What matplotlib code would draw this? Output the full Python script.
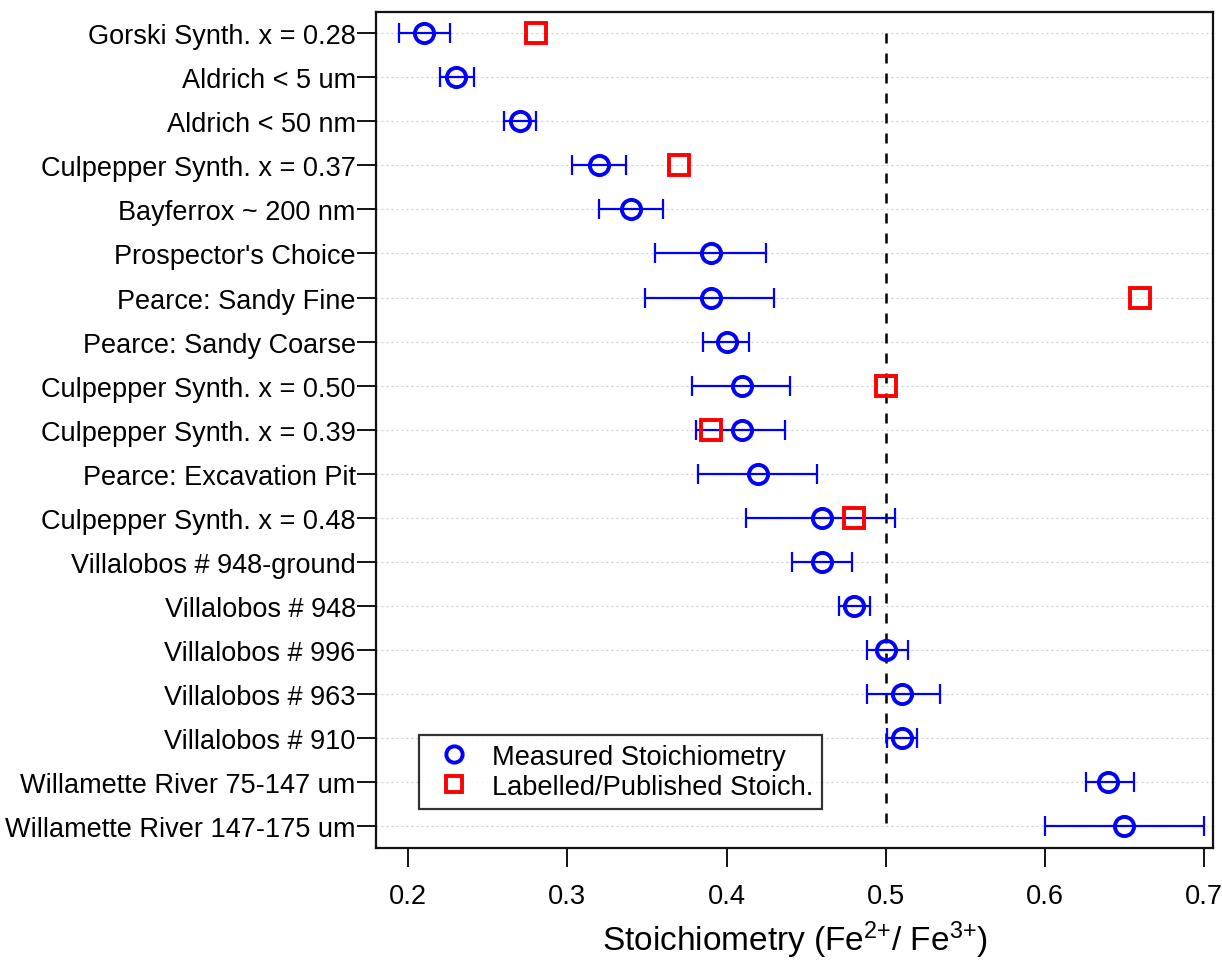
import numpy as np
import matplotlib
matplotlib.use("Agg")
import matplotlib.pyplot as plt

plt.rcParams['font.family'] = ['Liberation Sans', 'DejaVu Sans']
plt.rcParams['mathtext.fontset'] = 'custom'
plt.rcParams['mathtext.rm'] = 'Liberation Sans'
plt.rcParams['mathtext.default'] = 'regular'

# samples, top to bottom
samples = [
    "Gorski Synth. x = 0.28",
    "Aldrich < 5 um",
    "Aldrich < 50 nm",
    "Culpepper Synth. x = 0.37",
    "Bayferrox ~ 200 nm",
    "Prospector's Choice",
    "Pearce: Sandy Fine",
    "Pearce: Sandy Coarse",
    "Culpepper Synth. x = 0.50",
    "Culpepper Synth. x = 0.39",
    "Pearce: Excavation Pit",
    "Culpepper Synth. x = 0.48",
    "Villalobos # 948-ground",
    "Villalobos # 948",
    "Villalobos # 996",
    "Villalobos # 963",
    "Villalobos # 910",
    "Willamette River 75-147 um",
    "Willamette River 147-175 um",
]
measured = [0.21, 0.23, 0.27, 0.32, 0.34, 0.39, 0.39, 0.40, 0.41, 0.41,
            0.42, 0.46, 0.46, 0.48, 0.50, 0.51, 0.51, 0.64, 0.65]
meas_low = [0.194, 0.220, 0.260, 0.303, 0.320, 0.355, 0.349, 0.385, 0.378, 0.381,
            0.382, 0.412, 0.441, 0.4705, 0.488, 0.488, 0.501, 0.626, 0.600]
meas_high = [0.226, 0.241, 0.280, 0.337, 0.360, 0.425, 0.430, 0.414, 0.440, 0.437,
             0.457, 0.506, 0.479, 0.490, 0.514, 0.534, 0.5195, 0.656, 0.700]
published = [0.28, None, None, 0.37, None, None, 0.66, None, 0.50, 0.39,
             None, 0.48, None, None, None, None, None, None, None]
x_ticks = [0.2, 0.3, 0.4, 0.5, 0.6, 0.7]

blue = '#0000FF'
red = '#FF0000'

y = np.arange(len(samples))
meas = np.array(measured)
xerr = np.vstack([meas - np.array(meas_low), np.array(meas_high) - meas])
pub = np.array([np.nan if v is None else v for v in published])

fig = plt.figure(figsize=(12.22, 9.62), dpi=100)
ax = fig.add_axes([0.3081, 0.1175, 0.6845, 0.869])

for yy in y:
    ax.axhline(yy, color='#cccccc', linestyle=(0, (1.5, 2.5)), linewidth=0.9, zorder=0)
ax.vlines(0.5, y[0], y[-1], colors='black', linestyles=(0, (4, 4)), linewidth=1.8, zorder=1)

ax.errorbar(meas, y, xerr=xerr, fmt='none', ecolor=blue, elinewidth=1.6,
            capsize=7, capthick=1.6, zorder=2)
ax.plot(meas, y, linestyle='none', marker='o', markersize=13.8,
        markerfacecolor='none', markeredgecolor=blue, markeredgewidth=2.8,
        zorder=3, label='Measured Stoichiometry')
ax.plot(pub, y, linestyle='none', marker='s', markersize=13.8,
        markerfacecolor='none', markeredgecolor=red, markeredgewidth=2.8,
        zorder=4, label='Labelled/Published Stoich.')

ax.set_xlim(0.18, 0.7057)
ax.set_ylim(18.49, -0.48)
ax.set_yticks(y)
ax.set_yticklabels(samples)
ax.set_xticks(x_ticks)
ax.set_xticklabels([f"{v:.1f}" for v in x_ticks])
ax.tick_params(axis='y', direction='out', length=14, width=1.3, pad=1, labelsize=19.5)
ax.tick_params(axis='x', direction='out', length=14, width=1.3, pad=11, labelsize=19.6)
for sp in ax.spines.values():
    sp.set_linewidth(1.6)
    sp.set_color('#111111')

ax.set_xlabel('Stoichiometry (Fe$^{2{+}}$/ Fe$^{3{+}}$)', fontsize=24, labelpad=7)

leg = ax.legend(loc='lower left', bbox_to_anchor=(0.0508, 0.0466), borderaxespad=0,
                fontsize=19.6, frameon=True, fancybox=False, edgecolor='black',
                handlelength=1.9, handletextpad=0.45, labelspacing=0.15,
                borderpad=0.33, markerscale=0.85)
leg.get_frame().set_linewidth(1.6)

fig.savefig('out.png', dpi=100)
